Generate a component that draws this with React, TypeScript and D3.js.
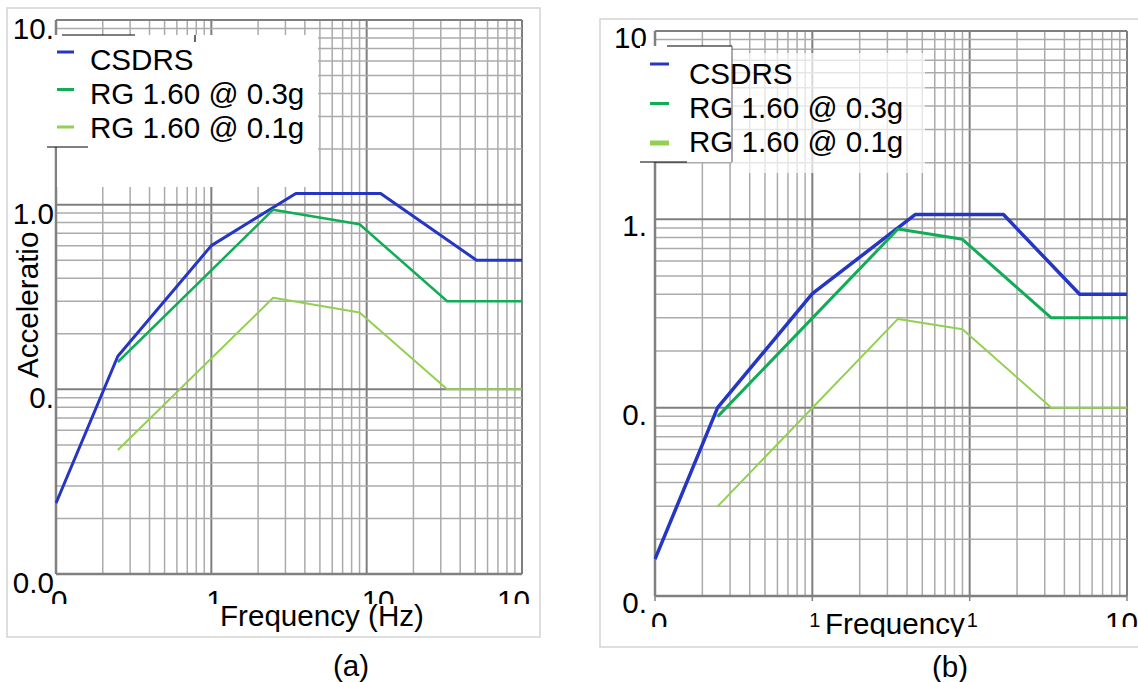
import React from 'react';
import * as d3 from 'd3';

const FONT = '"Liberation Sans", Arial, Helvetica, sans-serif';
const FS = 29.6;
const BLUE = '#2636c4';
const GREEN = '#10ac56';
const LIGHT = '#92d050';

// (a) horizontal spectra: frequency (Hz) vs acceleration (g)
const freqCsdrsA = [0.1, 0.25, 1, 3.5, 12.3, 51, 100];
const accCsdrsA = [0.0242, 0.151, 0.6, 1.15, 1.15, 0.5, 0.5];
const freqRgA = [0.25, 2.5, 9, 33, 100];
const accRg03A = [0.1406, 0.939, 0.783, 0.3, 0.3];
const accRg01A = [0.0469, 0.313, 0.261, 0.1, 0.1];

// (b) vertical spectra
const freqCsdrsB = [0.1, 0.25, 1, 4.5, 16.4, 50, 100];
const accCsdrsB = [0.0157, 0.1, 0.403, 1.06, 1.06, 0.4, 0.4];
const freqRgB = [0.25, 3.5, 9, 33, 100];
const accRg03B = [0.0896, 0.888, 0.783, 0.3, 0.3];
const accRg01B = [0.0299, 0.296, 0.261, 0.1, 0.1];

const legendLabels = ['CSDRS', 'RG 1.60 @ 0.3g', 'RG 1.60 @ 0.1g'];

// tick labels, as far as they are visible in the figure
const yTickValues = [10, 1, 0.1, 0.01];
const xTickValues = [0.1, 1, 10, 100];
const yTextA = ['10.', '1.0', '0.', '0.0'];
const xTextA = ['0', '1', '10', '10'];
const yTextB = ['10', '1.', '0.', '0.'];
const xTextB = ['0', '1', '1', '10'];

type Scale = d3.ScaleLogarithmic<number, number>;

const zip = (xs: number[], ys: number[]): [number, number][] => xs.map((x, i) => [x, ys[i]]);

const isDecade = (v: number) => Math.abs(Math.log10(v) - Math.round(Math.log10(v))) < 1e-9;

function Grid({ x, y }: { x: Scale; y: Scale }) {
  const [xa, xb] = x.range();
  const [ya, yb] = y.range();
  return (
    <g>
      {x.ticks().map((v) => (
        <line key={'gx' + v} x1={x(v)} x2={x(v)} y1={yb} y2={ya}
          stroke={isDecade(v) ? '#7f7f7f' : '#ababab'} strokeWidth={isDecade(v) ? 2 : 1.5} />
      ))}
      {y.ticks().map((v) => (
        <line key={'gy' + v} x1={xa} x2={xb} y1={y(v)} y2={y(v)}
          stroke={isDecade(v) ? '#7f7f7f' : '#ababab'} strokeWidth={isDecade(v) ? 2 : 1.5} />
      ))}
      <line x1={xa} x2={xa} y1={yb} y2={ya} stroke="#808080" strokeWidth={2.5} />
      <line x1={xa} x2={xb} y1={ya} y2={ya} stroke="#808080" strokeWidth={2.5} />
    </g>
  );
}

function Series({ x, y, clip, lines }: {
  x: Scale; y: Scale; clip: string;
  lines: { data: [number, number][]; color: string; width: number }[];
}) {
  const path = d3.line<[number, number]>().x((d) => x(d[0])).y((d) => y(d[1]));
  return (
    <g clipPath={`url(#${clip})`}>
      {lines.map((l, i) => (
        <path key={i} d={path(l.data) || ''} fill="none" stroke={l.color}
          strokeWidth={l.width} strokeLinejoin="round" />
      ))}
    </g>
  );
}

function PanelA() {
  const x = d3.scaleLog().domain([0.1, 100]).range([56, 522]);
  const y = d3.scaleLog().domain([0.01, 10]).range([574, 20]);
  const colors = [BLUE, GREEN, LIGHT];
  return (
    <g>
      <defs>
        <clipPath id="plotA"><rect x={55} y={19} width={468} height={556} /></clipPath>
        <clipPath id="xlabA"><rect x={0} y={580} width={540} height={24} /></clipPath>
      </defs>
      <rect x={7} y={8} width={533} height={629} fill="#fff" stroke="#d4d4d4" strokeWidth={1.5} />
      <Grid x={x} y={y} />
      <Series x={x} y={y} clip="plotA" lines={[
        { data: zip(freqCsdrsA, accCsdrsA), color: BLUE, width: 3 },
        { data: zip(freqRgA, accRg03A), color: GREEN, width: 2.5 },
        { data: zip(freqRgA, accRg01A), color: LIGHT, width: 2 },
      ]} />

      {/* legend */}
      <rect x={47} y={35} width={271} height={112} fill="#fff" />
      <rect x={57} y={147} width={261} height={40} fill="#fff" />
      <line x1={62} x2={135} y1={35} y2={35} stroke="#000" strokeWidth={1.2} />
      <line x1={195} x2={195} y1={35} y2={42} stroke="#000" strokeWidth={1.2} />
      <line x1={47} x2={88} y1={147} y2={147} stroke="#000" strokeWidth={1.2} />
      {legendLabels.map((t, i) => (
        <g key={t}>
          <line x1={57} x2={74} y1={52 + i * 37.5} y2={52 + i * 37.5} stroke={colors[i]} strokeWidth={3} />
          <text x={90} y={70 + i * 34} fontSize={FS} fontFamily={FONT} fill="#000">{t}</text>
        </g>
      ))}

      {/* y tick labels */}
      {yTickValues.map((v, i) => (
        <text key={'ya' + v} x={54} y={y(v) + 19} textAnchor="end" fontSize={FS} fontFamily={FONT}>{yTextA[i]}</text>
      ))}
      {/* x tick labels */}
      <g clipPath="url(#xlabA)">
        {xTickValues.map((v, i) => (
          <text key={'xa' + v} x={i === xTickValues.length - 1 ? x(v) + 8 : x(v) - 5} y={611}
            textAnchor={i === xTickValues.length - 1 ? 'end' : 'start'} fontSize={FS} fontFamily={FONT}>{xTextA[i]}</text>
        ))}
      </g>
      <text x={220} y={626} fontSize={FS} fontFamily={FONT}>Frequency (Hz)</text>
      <text transform="translate(38,378) rotate(-90)" fontSize={FS} fontFamily={FONT}>Acceleratio</text>
      <text x={351} y={676} textAnchor="middle" fontSize={FS} fontFamily={FONT}>(a)</text>
    </g>
  );
}

function PanelB() {
  const x = d3.scaleLog().domain([0.1, 100]).range([655, 1127]);
  const y = d3.scaleLog().domain([0.01, 10]).range([596, 31]);
  const colors = [BLUE, GREEN, LIGHT];
  const sampleWidths = [3, 3, 5];
  return (
    <g>
      <defs>
        <clipPath id="plotB"><rect x={654} y={30} width={474} height={567} /></clipPath>
        <clipPath id="xlabB"><rect x={600} y={600} width={540} height={27} /></clipPath>
        <clipPath id="xtitleB"><rect x={600} y={600} width={540} height={37} /></clipPath>
      </defs>
      <rect x={600} y={19} width={560} height={628} fill="#fff" stroke="#d4d4d4" strokeWidth={1.5} />
      <Grid x={x} y={y} />
      {xTickValues.map((v) => (
        <line key={'tb' + v} x1={x(v)} x2={x(v)} y1={596} y2={601} stroke="#808080" strokeWidth={1.5} />
      ))}
      <Series x={x} y={y} clip="plotB" lines={[
        { data: zip(freqCsdrsB, accCsdrsB), color: BLUE, width: 3.5 },
        { data: zip(freqRgB, accRg03B), color: GREEN, width: 3 },
        { data: zip(freqRgB, accRg01B), color: LIGHT, width: 2 },
      ]} />

      {/* y tick labels */}
      {yTickValues.map((v, i) => (
        <text key={'yb' + v} x={647} y={y(v) + 17} textAnchor="end" fontSize={FS} fontFamily={FONT}>{yTextB[i]}</text>
      ))}

      {/* legend */}
      <rect x={732} y={53} width={193} height={120} fill="#fff" opacity={0.7} />
      <rect x={640} y={46} width={92} height={116} fill="#fff" />
      <line x1={667} x2={732} y1={46} y2={46} stroke="#000" strokeWidth={1.2} />
      <line x1={732} x2={732} y1={46} y2={162} stroke="#555" strokeWidth={1} />
      <line x1={640} x2={687} y1={162} y2={162} stroke="#000" strokeWidth={1.2} />
      {legendLabels.map((t, i) => (
        <g key={t}>
          <line x1={650} x2={669} y1={64 + i * 39.5} y2={64 + i * 39.5} stroke={colors[i]} strokeWidth={sampleWidths[i]} />
          <text x={689} y={84 + i * 34} fontSize={FS} fontFamily={FONT} fill="#000">{t}</text>
        </g>
      ))}

      {/* x tick labels */}
      <g clipPath="url(#xlabB)">
        {xTickValues.map((v, i) => {
          const last = i === xTickValues.length - 1;
          const small = xTextB[i] === '1';
          return (
            <text key={'xb' + v} x={last ? 1138 : x(v) - (small ? 3 : 4)} y={small ? 627 : 633}
              textAnchor={last ? 'end' : 'start'} fontSize={small ? 20 : FS} fontFamily={FONT}>{xTextB[i]}</text>
          );
        })}
      </g>
      <g clipPath="url(#xtitleB)">
        <text x={825} y={634} fontSize={FS} fontFamily={FONT}>Frequency</text>
      </g>
      <text x={950} y={677} textAnchor="middle" fontSize={FS} fontFamily={FONT}>(b)</text>
    </g>
  );
}

export default function App() {
  return (
    <svg width={1138} height={682} style={{ position: 'absolute', left: 0, top: 0, background: '#fff' }}>
      <rect width={1138} height={682} fill="#fff" />
      <PanelA />
      <PanelB />
    </svg>
  );
}
